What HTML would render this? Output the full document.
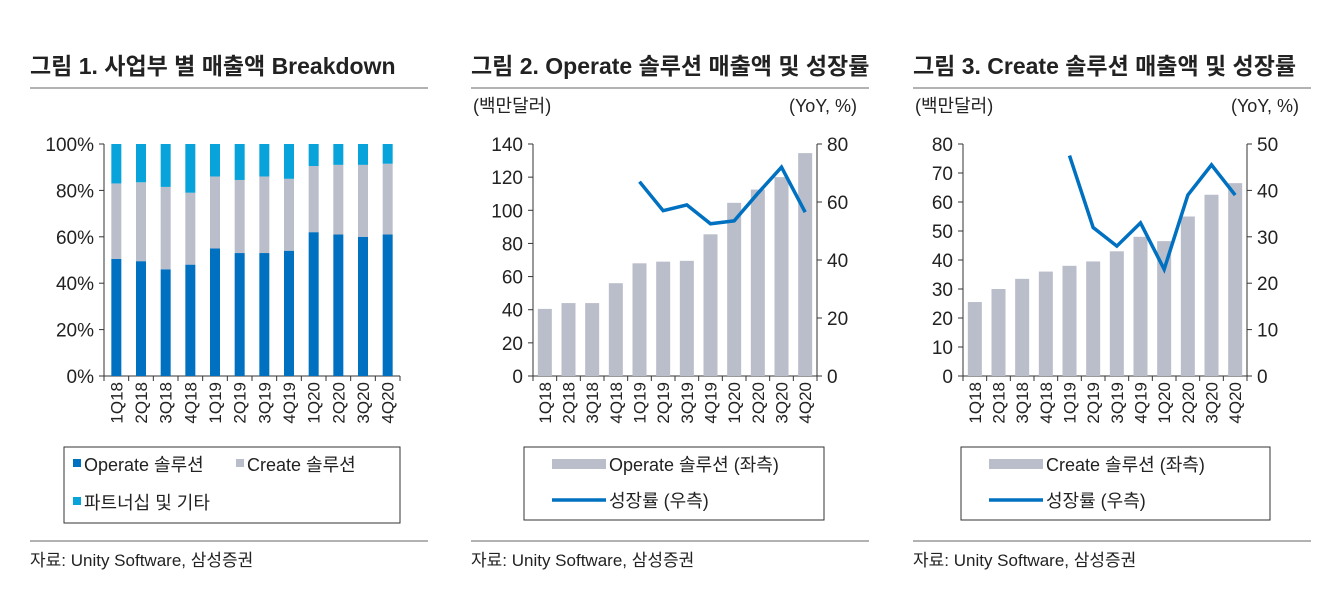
<!DOCTYPE html>
<html><head><meta charset="utf-8">
<style>
body{margin:0;width:1334px;height:604px;background:#fff;overflow:hidden;font-family:"Liberation Sans","Noto Sans CJK KR",sans-serif;}
svg text{font-family:"Liberation Sans","Noto Sans CJK KR",sans-serif;fill:#222;}
</style></head><body>
<svg id="s" width="1334" height="604" xmlns="http://www.w3.org/2000/svg"></svg>
<script>
const cats=['1Q18','2Q18','3Q18','4Q18','1Q19','2Q19','3Q19','4Q19','1Q20','2Q20','3Q20','4Q20'];
const opShare=[50.5,49.5,46,48,55,53,53,54,62,61,60,61];
const createShare=[32.5,34,35.5,31,31,31.5,33,31,28.5,30,31,30.5];
const otherShare=[17,16.5,18.5,21,14,15.5,14,15,9.5,9,9,8.5];
const opRev=[40.5,44,44,56,68,69,69.5,85.5,104.5,112.5,120,134.5];
const opYoY=[null,null,null,null,67,57,59,52.5,53.5,63,72,56.5];
const crRev=[25.5,30,33.5,36,38,39.5,43,48,46.5,55,62.5,66.5];
const crYoY=[null,null,null,null,47.5,32,28,33,23,39,45.5,39];
const pctTicks=['0%','20%','40%','60%','80%','100%'];
const c2LeftTicks=[0,20,40,60,80,100,120,140];
const c2RightTicks=[0,20,40,60,80];
const c3LeftTicks=[0,10,20,30,40,50,60,70,80];
const c3RightTicks=[0,10,20,30,40,50];

const NS='http://www.w3.org/2000/svg';
const S=document.getElementById('s');
function el(t,a,p){const e=document.createElementNS(NS,t);for(const k in a)e.setAttribute(k,a[k]);(p||S).appendChild(e);return e;}
function txt(x,y,s,a,p){const e=el('text',Object.assign({x:x,y:y},a||{}),p);e.textContent=s;return e;}

const BLUE='#0070c0',GREY='#babdca',CYAN='#08a3da';
const Y0=376,Y1=144;

function panel(x0,title,n,g){
  const t=txt(x0,74,title,{'font-size':23,'font-weight':'bold'},g);
  
  const l1=el('line',{x1:x0,x2:x0+398,y1:88,y2:88,stroke:'#666','stroke-width':1},g);
  
  const l2=el('line',{x1:x0,x2:x0+398,y1:541,y2:541,stroke:'#666','stroke-width':1},g);
  
  const s=txt(x0,566,'자료: Unity Software, 삼성증권',{'font-size':17},g);
  
}
function xaxis(L,R,g){
  const w=(R-L)/cats.length;
  el('line',{x1:L,x2:R,y1:Y0,y2:Y0,stroke:'#333'},g);
  for(let i=0;i<=cats.length;i++)el('line',{x1:L+i*w,x2:L+i*w,y1:Y0,y2:Y0+5,stroke:'#333'},g);
  cats.forEach((c,i)=>{const x=L+(i+0.5)*w+6;const t=txt(x,Y0+6,c,{'font-size':17,transform:`rotate(-90 ${x} ${Y0+6})`,'text-anchor':'end'},g);
    });
  return w;
}
function yaxis(x,ticks,max,side,g,fmt){
  el('line',{x1:x,x2:x,y1:Y1,y2:Y0,stroke:'#333'},g);
  ticks.forEach((v,i)=>{const y=Y0-(v/max)*(Y0-Y1);
    el('line',{x1:side<0?x-5:x,x2:side<0?x:x+5,y1:y,y2:y,stroke:'#333'},g);
    const t=txt(side<0?x-10:x+10,y+7,fmt?fmt[i]:String(v),{'font-size':19,'text-anchor':side<0?'end':'start'},g);
    });
}

// Chart 1
const g1=el('g',{});
panel(30,'그림 1.  사업부 별 매출액 Breakdown',1,g1);
{const L=104,R=400,w=xaxis(L,R,g1);
 yaxis(L,[0,20,40,60,80,100],100,-1,g1,pctTicks);
 const sy=v=>(Y0-Y1)*v/100;
 cats.forEach((c,i)=>{const x=L+(i+0.5)*w-5;let y=Y0;
  [[opShare,BLUE,'bar-operate'],[createShare,GREY,'bar-create'],[otherShare,CYAN,'bar-partner']].forEach(([arr,col,nm])=>{
   const h=sy(arr[i]);const r=el('rect',{x:x,y:y-h,width:10,height:h,fill:col},g1);
   y-=h;});});
 const lg=el('g',{},g1);
 el('rect',{x:64,y:447,width:336,height:76,fill:'none',stroke:'#333'},lg);
 el('rect',{x:73,y:459,width:8,height:8,fill:BLUE},lg);txt(84,471,'Operate 솔루션',{'font-size':18},lg);
 el('rect',{x:236,y:459,width:8,height:8,fill:GREY},lg);txt(247,471,'Create 솔루션',{'font-size':18},lg);
 el('rect',{x:73,y:497,width:8,height:8,fill:CYAN},lg);txt(84,509,'파트너십 및 기타',{'font-size':18},lg);
}

function comboChart(x0,title,L,R,rev,yoy,lt,lmax,rt,rmax,name,legendW,lx){
  const g=el('g',{});
  panel(x0,title,0,g);
  txt(x0+2,112,'(백만달러)',{'font-size':18},g);
  txt(x0+386,112,'(YoY, %)',{'font-size':18,'text-anchor':'end'},g);
  const w=xaxis(L,R,g);
  rev.forEach((v,i)=>{const h=v/lmax*(Y0-Y1);const r=el('rect',{x:L+(i+0.5)*w-7,y:Y0-h,width:14,height:h,fill:GREY},g);
    });
  yaxis(L,lt,lmax,-1,g);yaxis(R,rt,rmax,1,g);
  let d='';yoy.forEach((v,i)=>{if(v==null)return;const x=L+(i+0.5)*w,y=Y0-v/rmax*(Y0-Y1);d+=(d?'L':'M')+x+','+y;});
  const p=el('path',{d:d,fill:'none',stroke:BLUE,'stroke-width':3.5},g);
  
  const lg=el('g',{},g);
  el('rect',{x:lx,y:447,width:legendW,height:73,fill:'none',stroke:'#333'},lg);
  el('rect',{x:lx+28,y:459,width:54,height:10,fill:GREY},lg);
  txt(lx+85,471,name==='chart-operate'?'Operate 솔루션 (좌측)':'Create 솔루션 (좌측)',{'font-size':18},lg);
  el('line',{x1:lx+28,x2:lx+82,y1:500,y2:500,stroke:BLUE,'stroke-width':3.5},lg);
  txt(lx+85,507,'성장률 (우측)',{'font-size':18},lg);
}
comboChart(471,'그림 2.  Operate 솔루션 매출액 및 성장률',533,817,opRev,opYoY,c2LeftTicks,140,c2RightTicks,80,'chart-operate',300,524);
comboChart(913,'그림 3.  Create 솔루션 매출액 및 성장률',963,1247,crRev,crYoY,c3LeftTicks,80,c3RightTicks,50,'chart-create',309,961);
</script>
</body></html>
